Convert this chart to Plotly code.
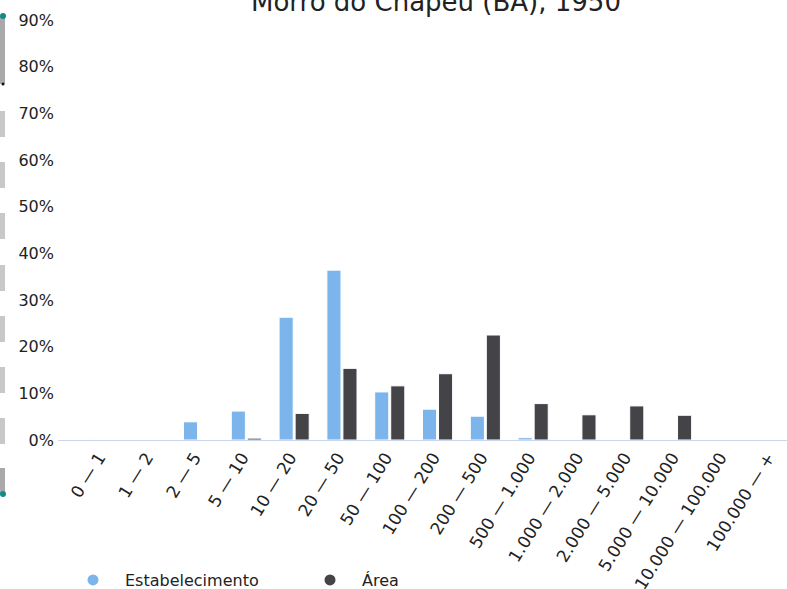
import plotly.graph_objects as go

categories = ["0 — 1", "1 — 2", "2 — 5", "5 — 10", "10 — 20", "20 — 50", "50 — 100",
              "100 — 200", "200 — 500", "500 — 1.000", "1.000 — 2.000", "2.000 — 5.000",
              "5.000 — 10.000", "10.000 — 100.000", "100.000 — +"]
estabelecimento = [0.05, 0.0, 3.9, 6.2, 26.3, 36.4, 10.3, 6.6, 5.1, 0.5, 0.0, 0.0, 0.0, 0.0, 0.0]
area = [0.0, 0.0, 0.0, 0.4, 5.7, 15.35, 11.6, 14.2, 22.5, 7.8, 5.4, 7.3, 5.3, 0.0, 0.0]
y_ticks = [0, 10, 20, 30, 40, 50, 60, 70, 80, 90]
y_tick_labels = [f"{v}%" for v in y_ticks]
title_text = "Morro do Chapéu (BA), 1950"

BLUE = "#7cb5ec"
DARK = "#434348"
FONT = "DejaVu Sans"

x_idx = list(range(len(categories)))

fig = go.Figure()
fig.add_trace(go.Bar(x=x_idx, y=estabelecimento, name="Estabelecimento",
                     marker=dict(color=BLUE, line=dict(color="white", width=1)),
                     showlegend=False))
fig.add_trace(go.Bar(x=x_idx, y=area, name="Área",
                     marker=dict(color=DARK, line=dict(color="white", width=1)),
                     showlegend=False))
# legend entries with circle symbols
fig.add_trace(go.Scatter(x=[None], y=[None], mode="markers", name="Estabelecimento",
                         marker=dict(color=BLUE, size=11, symbol="circle")))
fig.add_trace(go.Scatter(x=[None], y=[None], mode="markers", name="Área",
                         marker=dict(color=DARK, size=11, symbol="circle")))

W, H = 787, 589
L, R, T, B = 58, 0, 20, 149
pw, ph = W - L - R, H - T - B

def px(xp):
    return (xp - L) / pw

def py(yp):
    return (H - B - yp) / ph

shapes = []
# decorative vertical scrollbar strip at the left edge
shapes.append(dict(type="rect", xref="paper", yref="paper", x0=px(0), x1=px(5),
                   y0=py(84), y1=py(16), fillcolor="#a9a9a9", line=dict(width=0), layer="above"))
for y0 in [111, 162, 213, 265, 316, 367, 418]:
    shapes.append(dict(type="rect", xref="paper", yref="paper", x0=px(0), x1=px(5),
                       y0=py(y0 + 26), y1=py(y0), fillcolor="#c8c8c8", line=dict(width=0), layer="above"))
shapes.append(dict(type="rect", xref="paper", yref="paper", x0=px(0), x1=px(5),
                   y0=py(494), y1=py(468), fillcolor="#a9a9a9", line=dict(width=0), layer="above"))
for yc, col in [(16, "#138a8a"), (494, "#138a8a"), (84, "#111111")]:
    r = 3 if col != "#111111" else 1.5
    shapes.append(dict(type="circle", xref="paper", yref="paper", x0=px(3 - r), x1=px(3 + r),
                       y0=py(yc + r), y1=py(yc - r), fillcolor=col, line=dict(width=0), layer="above"))

fig.update_layout(
    width=W, height=H,
    margin=dict(l=L, r=R, t=T, b=B, pad=0, autoexpand=False),
    paper_bgcolor="white", plot_bgcolor="white",
    font=dict(family=FONT, color="#222222", size=16),
    barmode="group", bargap=0.33, bargroupgap=0.12,
    xaxis=dict(range=[-0.94, 14.31], tickmode="array", tickvals=x_idx, ticktext=categories,
               tickangle=-58, showgrid=False, zeroline=False, showline=True,
               linecolor="#ccd6eb", linewidth=1, ticks="", tickfont=dict(size=17, color="#222222"),
               ticklabelshift=-4, fixedrange=True, automargin=False),
    yaxis=dict(range=[0, 90], tickmode="array", tickvals=y_ticks, ticktext=y_tick_labels,
               showgrid=False, zeroline=False, showline=False, ticks="",
               tickfont=dict(size=16, color="#222222"), ticklabelstandoff=3, fixedrange=True,
               automargin=False),
    legend=dict(orientation="h", x=px(61), xanchor="left", y=py(580), yanchor="middle",
                font=dict(size=16, color="#222222"), entrywidth=168, entrywidthmode="pixels",
                itemwidth=54, bgcolor="rgba(0,0,0,0)"),
    annotations=[dict(text=title_text, xref="paper", yref="paper", x=px(436), y=py(19),
                      xanchor="center", yanchor="bottom", showarrow=False,
                      font=dict(family=FONT, size=26, color="#222222"))],
    shapes=shapes,
    showlegend=True,
)

fig.write_html("out.html", config={"displayModeBar": False},
               post_script="document.body.style.margin='0px';")
